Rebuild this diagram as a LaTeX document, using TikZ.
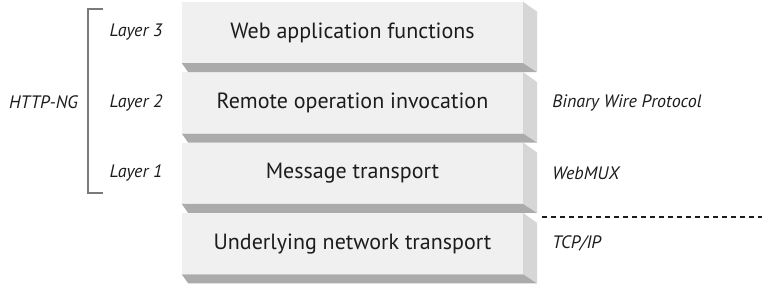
\documentclass[tikz,border=0pt]{standalone}
\usepackage{fontspec}
\setmainfont{PT Sans}
\usetikzlibrary{positioning}
\definecolor{cface}{HTML}{F0F0F0}
\definecolor{cside}{HTML}{D6D6D6}
\definecolor{cbottom}{HTML}{ABABAB}
\definecolor{ctext}{HTML}{1C1C1C}
\definecolor{cbracket}{HTML}{7A7A7A}
\tikzset{
  layerbox/.style={fill=cface, minimum width=341pt, minimum height=61pt,
    inner sep=0pt, text=ctext, font=\fontsize{22}{25}\selectfont},
  laylabel/.style={inner sep=0pt, text=ctext, font=\fontsize{18}{21}\selectfont\itshape},
  sidefill/.style={fill=cside},
  bottomfill/.style={fill=cbottom},
  bracketline/.style={draw=cbracket, line width=1.8pt},
  dashline/.style={draw=ctext, line width=1.6pt, dash pattern=on 5pt off 4pt}
}

\begin{document}
\begin{tikzpicture}[x=1pt, y=-1pt]
  \useasboundingbox (0,0) rectangle (762,288);

  % the protocol stack
  \node[layerbox] (web) at (352.5,32.5) {Web application functions};
  \node[layerbox, below=9pt of web] (rpc) {Remote operation invocation};
  \node[layerbox, below=9pt of rpc] (msg) {Message transport};
  \node[layerbox, below=9pt of msg] (net) {Underlying network transport};

  % extruded side and bottom of each box
  \foreach \n in {web,rpc,msg,net} {
    \fill[sidefill] (\n.north east) -- ++(14,10) -- ++(0,60) -- (\n.south east) -- cycle;
    \fill[bottomfill] (\n.south west) -- (\n.south east) -- ++(14,9) -- ++(-349,0) -- cycle;
  }

  % layer numbers and the HTTP-NG bracket
  \node[laylabel, left=19pt of web] (lay3) {Layer 3};
  \node[laylabel, left=19pt of rpc] (lay2) {Layer 2};
  \node[laylabel, left=19pt of msg] (lay1) {Layer 1};

  \coordinate (brtop) at (103,9);
  \coordinate (brbot) at (103,193);
  \coordinate (brmid) at (88,102);
  \draw[bracketline] (brtop) -- ++(-15,0) |- (brbot);
  \node[laylabel, left=10pt of brmid] (httpng) {HTTP-NG};

  % protocol names on the right
  \node[laylabel, right=29pt of rpc] (bwp) {Binary Wire Protocol};
  \node[laylabel, right=29pt of msg] (webmux) {WebMUX};
  \node[laylabel, right=29pt of net] (tcpip) {TCP/IP};

  \coordinate (dashstart) at (542,217);
  \coordinate (dashend) at (762,217);
  \draw[dashline] (dashstart) -- (dashend);
\end{tikzpicture}
\end{document}
